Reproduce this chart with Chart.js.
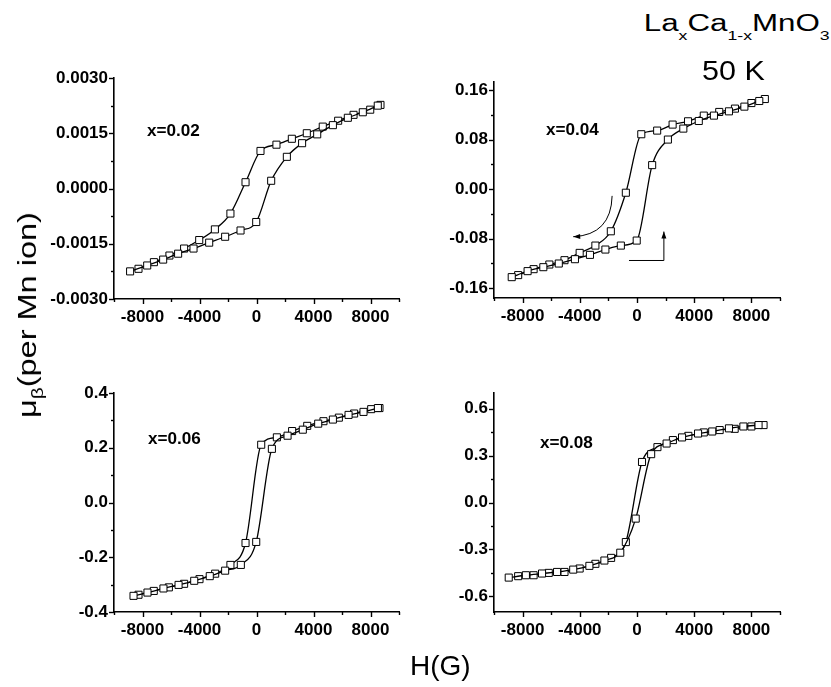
<!DOCTYPE html>
<html><head><meta charset="utf-8">
<script src="https://cdn.jsdelivr.net/npm/chart.js@4/dist/chart.umd.min.js"></script>
<style>
body{margin:0;background:#fff;width:831px;height:687px;position:relative;overflow:hidden;font-family:"Liberation Sans",Arial,Helvetica,sans-serif;color:#000;}
canvas{position:absolute;}
.lbl{position:absolute;font-weight:bold;font-size:16px;line-height:16px;transform:scaleX(1.07);transform-origin:0 50%;white-space:nowrap;}
.txt{position:absolute;white-space:nowrap;}
.sub{font-size:13px;position:relative;top:9px;}
</style></head><body>
<canvas id="c1"></canvas><canvas id="c2"></canvas><canvas id="c3"></canvas><canvas id="c4"></canvas>
<div class="lbl" style="left:147px;top:123px">x=0.02</div>
<div class="lbl" style="left:546px;top:122px">x=0.04</div>
<div class="lbl" style="left:148px;top:431px">x=0.06</div>
<div class="lbl" style="left:540px;top:435px">x=0.08</div>
<div class="txt" id="title1" style="right:1px;top:12px;font-size:23px;line-height:23px;transform:scaleX(1.36);transform-origin:100% 50%">La<span class="sub">x</span>Ca<span class="sub">1-x</span>MnO<span class="sub">3</span></div>
<div class="txt" style="left:702px;top:58px;font-size:27px;line-height:27px;transform:scaleX(1.13);transform-origin:0 50%">50 K</div>
<div class="txt" style="left:410px;top:652px;font-size:28px;line-height:28px">H(G)</div>
<div class="txt" id="ytitle" style="left:29px;top:315px;font-size:25px;line-height:25px;transform:translate(-50%,-50%) rotate(-90deg) scaleX(1.3)">μ<span style="font-size:16px;position:relative;top:7px">β</span>(per Mn ion)</div>
<script>
// ---- axis ticks ----
const fieldMajorTicks = [-8000, -4000, 0, 4000, 8000];
const fieldRange = [-10000, 10000];

// ---- x = 0.02 ----
const p02DecField = [8700, 7980, 6810, 5730, 4650, 3530, 2480, 1400, 280, -770, -1830, -2920, -4020, -5080, -6110, -7200, -8280];
const p02DecMoment = [0.00227, 0.00214, 0.00200, 0.00184, 0.00168, 0.00150, 0.00135, 0.00119, 0.00102, 0.00017, -0.00068, -0.00111, -0.00140, -0.00163, -0.00182, -0.00200, -0.00218];
const p02IncField = [-8870, -7670, -6550, -5500, -4420, -3320, -2200, -1120, -20, 1030, 2130, 3200, 4260, 5360, 6410, 7460, 8510];
const p02IncMoment = [-0.00225, -0.00209, -0.00193, -0.00177, -0.00163, -0.00147, -0.00131, -0.00114, -0.00091, 0.00021, 0.00086, 0.00123, 0.00147, 0.00172, 0.00192, 0.00207, 0.00225];
const p02YTicks = [-0.003, -0.0015, 0, 0.0015, 0.003];
const p02YRange = [-0.003, 0.003];

// ---- x = 0.04 ----
const p04DecField = [8940, 8000, 6850, 5750, 4670, 3570, 2490, 1410, 300, -780, -1830, -2910, -4010, -5070, -6130, -7230, -8310];
const p04DecMoment = [0.1455, 0.139, 0.130, 0.1246, 0.1187, 0.1095, 0.1042, 0.0945, 0.0886, -0.0059, -0.0682, -0.0913, -0.1031, -0.1149, -0.1219, -0.1294, -0.139];
const p04IncField = [-8760, -7650, -6550, -5470, -4340, -3290, -2210, -1130, -20, 1060, 2160, 3240, 4320, 5380, 6430, 7510, 8550];
const p04IncMoment = [-0.1423, -0.1326, -0.1262, -0.1203, -0.1133, -0.1063, -0.0977, -0.0913, -0.0832, 0.0387, 0.080, 0.0977, 0.110, 0.1187, 0.1256, 0.1332, 0.1423];
const p04YTicks = [-0.16, -0.08, 0, 0.08, 0.16];
const p04YRange = [-0.176, 0.173];
// sweep-direction arrows (data units)
const p04CurvedArrow = [[-1740, -0.011], [-1810, -0.074], [-4460, -0.077]];
const p04StepArrow = [[-560, -0.1154], [1880, -0.1154], [1880, -0.0687]];

// ---- x = 0.06 ----
const p06DecField = [8630, 8050, 6850, 5780, 4700, 3560, 2500, 1430, 330, -770, -1830, -2900, -4000, -5080, -6150, -7210, -8280];
const p06DecMoment = [0.345, 0.341, 0.325, 0.310, 0.297, 0.280, 0.261, 0.238, 0.211, -0.148, -0.228, -0.260, -0.280, -0.297, -0.310, -0.323, -0.337];
const p06IncField = [-8630, -7650, -6530, -5470, -4370, -3280, -2200, -1100, -20, 1080, 2180, 3250, 4330, 5360, 6460, 7510, 8520];
const p06IncMoment = [-0.341, -0.329, -0.314, -0.301, -0.286, -0.269, -0.249, -0.228, -0.144, 0.196, 0.244, 0.266, 0.288, 0.303, 0.320, 0.331, 0.345];
const p06YTicks = [-0.4, -0.2, 0, 0.2, 0.4];
const p06YRange = [-0.4, 0.4];

// ---- x = 0.08 ----
const p08DecField = [8850, 8000, 6830, 5780, 4670, 3590, 2510, 1430, 350, -780, -1810, -2910, -4010, -5070, -6170, -7230, -8310];
const p08DecMoment = [0.495, 0.486, 0.471, 0.463, 0.448, 0.426, 0.399, 0.354, 0.259, -0.253, -0.354, -0.392, -0.422, -0.444, -0.450, -0.465, -0.471];
const p08IncField = [-8970, -7770, -6640, -5590, -4460, -3330, -2280, -1170, -90, 990, 2070, 3150, 4270, 5260, 6430, 7440, 8500];
const p08IncMoment = [-0.480, -0.465, -0.454, -0.444, -0.429, -0.405, -0.371, -0.321, -0.103, 0.309, 0.377, 0.416, 0.441, 0.454, 0.474, 0.486, 0.495];
const p08YTicks = [-0.6, -0.3, 0, 0.3, 0.6];
const p08YRange = [-0.7, 0.7];

Chart.defaults.color = '#000';
Chart.defaults.font.family = '"Liberation Sans", Arial, Helvetica, sans-serif';

function minorOf(majors, range) {
  const step = majors[1] - majors[0];
  const out = [];
  for (let v = majors[0] - step / 2; v <= range[1] + 1e-12; v += step) {
    if (v >= range[0] - 1e-12) out.push(v);
  }
  return out;
}

const tickMarks = {
  id: 'tickMarks',
  afterDraw(chart) {
    const o = chart.options.plugins.tickMarks;
    const ctx = chart.ctx, xs = chart.scales.x, ys = chart.scales.y;
    ctx.save();
    ctx.strokeStyle = '#000';
    ctx.lineWidth = 1.4;
    const dx = (v, len) => { const p = Math.round(xs.getPixelForValue(v)) + 0.5; ctx.beginPath(); ctx.moveTo(p, xs.top); ctx.lineTo(p, xs.top + len); ctx.stroke(); };
    const dy = (v, len) => { const p = Math.round(ys.getPixelForValue(v)) + 0.5; ctx.beginPath(); ctx.moveTo(ys.right, p); ctx.lineTo(ys.right - len, p); ctx.stroke(); };
    o.xMajor.forEach(v => dx(v, 5));
    minorOf(o.xMajor, o.xRange).forEach(v => dx(v, 3));
    o.yMajor.forEach(v => dy(v, 5));
    minorOf(o.yMajor, o.yRange).forEach(v => dy(v, 3));
    ctx.restore();
  }
};

const arrows = {
  id: 'arrows',
  afterDatasetsDraw(chart) {
    const o = chart.options.plugins.arrows;
    if (!o || !o.curve) return;
    const ctx = chart.ctx, xs = chart.scales.x, ys = chart.scales.y;
    const P = (pt) => [xs.getPixelForValue(pt[0]), ys.getPixelForValue(pt[1])];
    ctx.save();
    ctx.strokeStyle = '#000'; ctx.fillStyle = '#000'; ctx.lineWidth = 1;
    const head = (from, to) => {
      const a = Math.atan2(to[1] - from[1], to[0] - from[0]);
      const L = 7, W = 2.5;
      ctx.beginPath();
      ctx.moveTo(to[0], to[1]);
      ctx.lineTo(to[0] - L * Math.cos(a) + W * Math.sin(a), to[1] - L * Math.sin(a) - W * Math.cos(a));
      ctx.lineTo(to[0] - L * Math.cos(a) - W * Math.sin(a), to[1] - L * Math.sin(a) + W * Math.cos(a));
      ctx.closePath(); ctx.fill();
    };
    const c = o.curve.map(P);
    ctx.beginPath(); ctx.moveTo(c[0][0], c[0][1]); ctx.quadraticCurveTo(c[1][0], c[1][1], c[2][0], c[2][1]); ctx.stroke();
    head(c[1], c[2]);
    const s = o.step.map(P);
    ctx.beginPath(); ctx.moveTo(s[0][0], s[0][1]); s.slice(1).forEach(p => ctx.lineTo(p[0], p[1])); ctx.stroke();
    head(s[1], s[2]);
    ctx.restore();
  }
};

const Y_W = 80, PAD_T = 20, PAD_R = 20, X_H = 40;

function makePanel(id, area, decF, decM, incF, incM, yTicks, yRange, decimals, arrowOpts) {
  const cv = document.getElementById(id);
  const left = area.L - Y_W, top = area.T - PAD_T;
  const w = area.R - left + PAD_R, h = area.B + X_H - top;
  cv.style.left = left + 'px'; cv.style.top = top + 'px';
  cv.width = w; cv.height = h;
  const ds = (F, M) => ({
    data: F.map((f, i) => ({ x: f, y: M[i] })),
    showLine: true, borderColor: '#000', borderWidth: 1.3,
    cubicInterpolationMode: 'monotone', fill: false,
    pointStyle: 'rect', pointRadius: 5, pointBackgroundColor: '#fff',
    pointBorderColor: '#000', pointBorderWidth: 1
  });
  new Chart(cv, {
    type: 'scatter',
    data: { datasets: [ds(incF, incM), ds(decF, decM)] },
    options: {
      responsive: false, animation: false, devicePixelRatio: 1,
      layout: { padding: { top: PAD_T, right: PAD_R, left: 0, bottom: 0 } },
      plugins: {
        legend: { display: false }, tooltip: { enabled: false },
        tickMarks: { xMajor: fieldMajorTicks, xRange: fieldRange, yMajor: yTicks, yRange: yRange },
        arrows: arrowOpts || {}
      },
      scales: {
        x: {
          type: 'linear', min: fieldRange[0], max: fieldRange[1],
          afterBuildTicks: s => { s.ticks = fieldMajorTicks.map(v => ({ value: v })); },
          afterFit: s => { s.height = X_H; },
          grid: { display: false, drawTicks: false },
          border: { display: true, color: '#000', width: 1.6 },
          ticks: { padding: 8, maxRotation: 0, autoSkip: false, font: { size: 17, weight: 'bold' }, callback: v => String(v) }
        },
        y: {
          type: 'linear', min: yRange[0], max: yRange[1],
          afterBuildTicks: s => { s.ticks = yTicks.map(v => ({ value: v })); },
          afterFit: s => { s.width = Y_W; },
          grid: { display: false, drawTicks: false },
          border: { display: true, color: '#000', width: 1.6 },
          ticks: { padding: 6, autoSkip: false, font: { size: 17, weight: 'bold' }, callback: v => (Math.abs(v) < 1e-12 ? 0 : v).toFixed(decimals) }
        }
      }
    },
    plugins: [tickMarks, arrows]
  });
}

makePanel('c1', { L: 114, R: 399, T: 78, B: 299 }, p02DecField, p02DecMoment, p02IncField, p02IncMoment, p02YTicks, p02YRange, 4);
makePanel('c2', { L: 494, R: 780, T: 82, B: 298 }, p04DecField, p04DecMoment, p04IncField, p04IncMoment, p04YTicks, p04YRange, 2, { curve: p04CurvedArrow, step: p04StepArrow });
makePanel('c3', { L: 114, R: 399, T: 393, B: 612 }, p06DecField, p06DecMoment, p06IncField, p06IncMoment, p06YTicks, p06YRange, 1);
makePanel('c4', { L: 494, R: 780, T: 393, B: 612 }, p08DecField, p08DecMoment, p08IncField, p08IncMoment, p08YTicks, p08YRange, 1);
</script>
</body></html>
